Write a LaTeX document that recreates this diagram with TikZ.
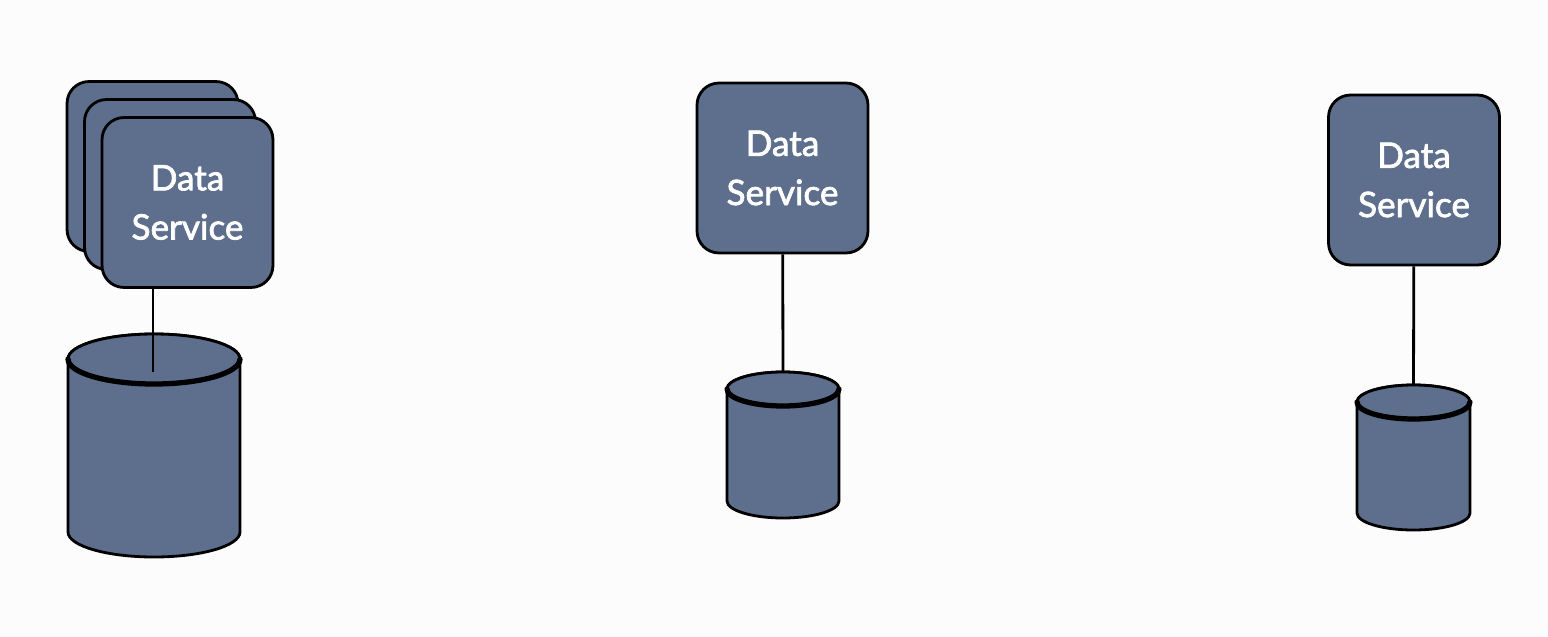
\documentclass[tikz,border=0pt]{standalone}
\usepackage{fontspec}
\setmainfont{Lato}
\newfontfamily\svcfont{Lato}[FakeBold=2]
\usepackage{tikz}
\usetikzlibrary{calc}
\definecolor{slate}{RGB}{93,111,140}
\definecolor{paper}{RGB}{252,252,252}
\newcommand{\database}[4]{%
  \begin{scope}[shift={(#1)}]
    \filldraw[fill=slate,line width=1.6pt] (-#2,0) -- (-#2,#4)
      arc[start angle=180,end angle=0,x radius=#2,y radius=#3] -- (#2,0)
      arc[start angle=0,end angle=-180,x radius=#2,y radius=#3] -- cycle;
    \filldraw[fill=slate,line width=1.6pt] (0,0) ellipse[x radius=#2,y radius=#3];
    \draw[line width=3pt,line cap=round] (-#2,0)
      arc[start angle=180,end angle=0,x radius=#2,y radius=#3];
  \end{scope}}

\begin{document}
\begin{tikzpicture}[x=0.02cm,y=-0.02cm,
    svc/.style={draw,fill=slate,line width=1.6pt,rounded corners=0.44cm,
      minimum width=3.42cm,minimum height=3.4cm,text=white,align=center,
      font=\svcfont\fontsize{20}{28}\selectfont}]
    \useasboundingbox[fill=paper] (0,0) rectangle (1548,636);

    \node[svc] (1a) at (152.5,166.5) {};
    \node[svc] (1b) at (170,184.5) {};
    \node[svc] (1) at (187.5,202.5) {Data\\Service};
    \database{154,359}{86}{25}{173}
    \coordinate (db1) at (153,372);
    \draw[line width=1.6pt] (1.south -| db1) -- (db1);

    \node[svc] (2) at (782.5,168) {Data\\Service};
    \coordinate (db2) at (783,372);
    \draw[line width=1.6pt] (2) -- (db2);
    \database{783,389}{56}{17}{112}

    \node[svc] (3) at (1414,180) {Data\\Service};
    \coordinate (db3) at (1413.5,385);
    \draw[line width=1.6pt] (3) -- (db3);
    \database{1413.5,402}{56.5}{17}{111}

  \end{tikzpicture}
\end{document}
